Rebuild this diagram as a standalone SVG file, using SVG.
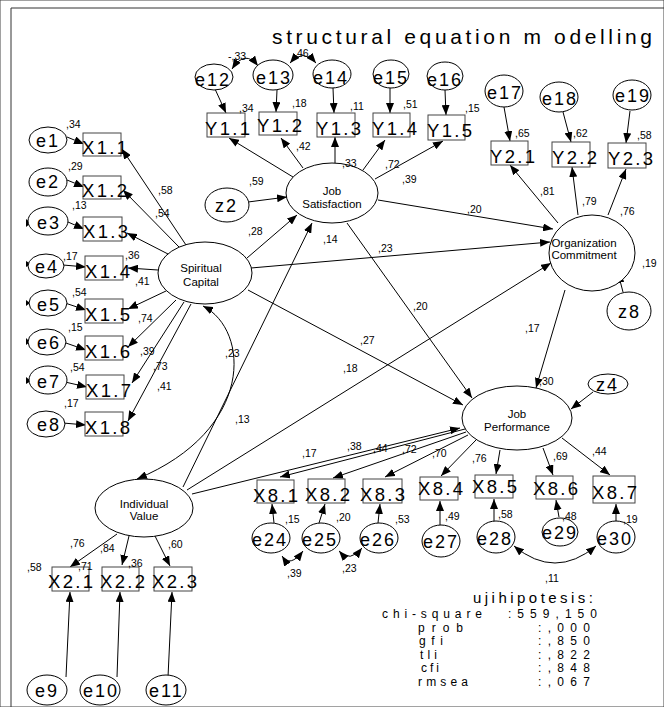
<svg xmlns="http://www.w3.org/2000/svg" width="664" height="707" viewBox="0 0 664 707">
<style>
text{font-family:"Liberation Sans",Arial,sans-serif;fill:#000}
.n{font-size:10.5px}
.big{font-size:18.5px;letter-spacing:2.3px}
.ev{font-size:18px;letter-spacing:2px}
.lv{font-size:11.5px;text-anchor:middle}
.st{font-size:12px}
ellipse{fill:#fff;stroke:#000;stroke-width:1}
rect{fill:#fff;stroke:#444;stroke-width:1}
.c line,.c path{stroke:#000;stroke-width:1;fill:none;marker-end:url(#ah)}
.c path.cv{marker-start:url(#ah)}
</style>
<defs>
<marker id="ah" viewBox="0 0 10 8" refX="10" refY="4" markerWidth="10" markerHeight="8" markerUnits="userSpaceOnUse" orient="auto-start-reverse"><path d="M0,0 L10,4 L0,8 z" fill="#000"/></marker>
</defs>
<rect width="664" height="707" fill="#fff" stroke="none"/>
<path d="M11,707 L11,8 L664,8" fill="none" stroke="#333" stroke-width="1"/>
<text x="272" y="44" font-size="21" textLength="380" lengthAdjust="spacing">structural equation m odelling</text>

<g class="c" id="connectors">
<!-- e -> X1 -->
<line x1="67" y1="137" x2="84" y2="144"/>
<line x1="67" y1="180" x2="84" y2="187"/>
<line x1="68" y1="222" x2="84" y2="229"/>
<line x1="63" y1="265" x2="86" y2="267"/>
<line x1="65" y1="303" x2="86" y2="310"/>
<line x1="63" y1="342" x2="86" y2="350"/>
<line x1="65" y1="382" x2="87" y2="387"/>
<line x1="63" y1="423" x2="86" y2="425"/>
<!-- SC -> X1 -->
<line x1="186" y1="245" x2="122" y2="149"/>
<line x1="179" y1="247" x2="123" y2="190"/>
<line x1="168" y1="254" x2="127" y2="233"/>
<line x1="158" y1="270" x2="128" y2="268"/>
<line x1="166" y1="291" x2="128" y2="309"/>
<line x1="176" y1="300" x2="128" y2="347"/>
<line x1="184" y1="302" x2="132" y2="383"/>
<line x1="191" y1="304" x2="128" y2="421"/>
<!-- e -> Y1 -->
<line x1="215" y1="89" x2="226" y2="113"/>
<line x1="277" y1="90" x2="276" y2="112"/>
<line x1="333" y1="88" x2="334" y2="113"/>
<line x1="390" y1="88" x2="390" y2="113"/>
<line x1="445" y1="90" x2="446" y2="115"/>
<!-- JS -> Y1 -->
<line x1="293" y1="177" x2="229" y2="138"/>
<line x1="303" y1="168" x2="281" y2="138"/>
<line x1="335" y1="163" x2="335" y2="137"/>
<line x1="363" y1="170" x2="385" y2="140"/>
<line x1="375" y1="179" x2="443" y2="141"/>
<!-- covariances top -->
<path class="cv" d="M232,69 Q245,49 258,66"/>
<path class="cv" d="M290,63 Q303,48 316,63"/>
<!-- e -> Y2 -->
<line x1="504" y1="107" x2="510" y2="141"/>
<line x1="563" y1="112" x2="571" y2="142"/>
<line x1="630" y1="111" x2="626" y2="143"/>
<!-- Org -> Y2 -->
<line x1="558" y1="223" x2="510" y2="165"/>
<line x1="578" y1="215" x2="572" y2="167"/>
<line x1="608" y1="215" x2="626" y2="169"/>
<!-- structural -->
<line x1="248" y1="202" x2="287" y2="197"/>
<line x1="247" y1="258" x2="297" y2="215"/>
<line x1="378" y1="200" x2="553" y2="229"/>
<line x1="251" y1="268" x2="550" y2="242"/>
<line x1="347" y1="223" x2="472" y2="398"/>
<line x1="248" y1="290" x2="463" y2="405"/>
<line x1="565" y1="290" x2="536" y2="388"/>
<line x1="593" y1="392" x2="571" y2="409"/>
<line x1="623" y1="292" x2="618" y2="273"/>
<line x1="183" y1="487" x2="312" y2="223"/>
<line x1="187" y1="490" x2="551" y2="263"/>
<line x1="192" y1="494" x2="460" y2="428"/>
<path class="cv" d="M203,306 C250,330 255,430 137,479"/>
<!-- JP -> X8 -->
<line x1="465" y1="429" x2="280" y2="477"/>
<line x1="466" y1="432" x2="333" y2="478"/>
<line x1="468" y1="435" x2="385" y2="477"/>
<line x1="476" y1="440" x2="441" y2="476"/>
<line x1="500" y1="450" x2="496" y2="474"/>
<line x1="543" y1="448" x2="553" y2="475"/>
<line x1="562" y1="438" x2="610" y2="475"/>
<!-- e -> X8 -->
<line x1="274" y1="523" x2="272" y2="504"/>
<line x1="319" y1="523" x2="325" y2="504"/>
<line x1="378" y1="523" x2="380" y2="504"/>
<line x1="440" y1="525" x2="440" y2="501"/>
<line x1="494" y1="522" x2="494" y2="499"/>
<line x1="559" y1="517" x2="556" y2="500"/>
<line x1="616" y1="522" x2="616" y2="504"/>
<path class="cv" d="M282,556 Q290,568 303,551"/>
<path class="cv" d="M339,551 Q350,563 362,548"/>
<path class="cv" d="M514,546 Q555,580 596,546"/>
<!-- IV -> X2 -->
<line x1="117" y1="534" x2="70" y2="567"/>
<line x1="129" y1="536" x2="122" y2="565"/>
<line x1="155" y1="536" x2="170" y2="566"/>
<!-- e -> X2 -->
<line x1="66" y1="677" x2="70" y2="592"/>
<line x1="117" y1="677" x2="120" y2="592"/>
<line x1="168" y1="677" x2="172" y2="592"/>
</g>
<g id="stray-heads" fill="#000">
<path d="M26,219 L31,223 L26,227 z"/>
<path d="M26,261 L31,264 L26,267 z"/>
<path d="M26,300 L30,303 L26,306 z"/>
<path d="M26,338 L30,342 L26,345 z"/>
<path d="M26,377 L31,381 L26,384 z"/>
</g>

<g id="SC"><ellipse cx="205" cy="273" rx="47" ry="31"/><text class="lv" x="201" y="272">Spiritual</text><text class="lv" x="201" y="286">Capital</text></g>
<g id="JS"><ellipse cx="332" cy="193" rx="46" ry="30"/><text class="lv" x="332" y="195">Job</text><text class="lv" x="332" y="208">Satisfaction</text></g>
<g id="OC"><ellipse cx="592" cy="253" rx="43" ry="38"/><text class="lv" x="584" y="247">Organization</text><text class="lv" x="584" y="259">Commitment</text></g>
<g id="JP"><ellipse cx="517" cy="418" rx="55" ry="32"/><text class="lv" x="517" y="418">Job</text><text class="lv" x="517" y="431">Performance</text></g>
<g id="IV"><ellipse cx="144" cy="508" rx="49" ry="29"/><text class="lv" x="144" y="508">Individual</text><text class="lv" x="144" y="520">Value</text></g>
<g id="z2"><ellipse cx="227" cy="205" rx="22" ry="17"/><text class="ev" x="215" y="212">z2</text></g>
<g id="z8"><ellipse cx="629" cy="311" rx="22" ry="19"/><text class="ev" x="618" y="318">z8</text></g>
<g id="z4"><ellipse cx="608" cy="384" rx="20" ry="10"/><text class="ev" x="596" y="391">z4</text></g>

<g id="X1">
<rect x="83" y="133" width="38" height="23"/><text class="big" x="82" y="154">X1.1</text>
<rect x="83" y="176" width="38" height="23"/><text class="big" x="82" y="197">X1.2</text>
<rect x="83" y="217" width="39" height="24"/><text class="big" x="83" y="238">X1.3</text>
<rect x="85" y="256" width="38" height="24"/><text class="big" x="85" y="278">X1.4</text>
<rect x="85" y="299" width="38" height="24"/><text class="big" x="85" y="321">X1.5</text>
<rect x="85" y="336" width="38" height="24"/><text class="big" x="85" y="358">X1.6</text>
<rect x="86" y="375" width="38" height="24"/><text class="big" x="86" y="397">X1.7</text>
<rect x="85" y="412" width="38" height="24"/><text class="big" x="85" y="434">X1.8</text>
</g>
<g id="E1">
<ellipse cx="48" cy="140" rx="19" ry="13"/><text class="ev" x="36" y="147">e1</text>
<ellipse cx="48" cy="182" rx="19" ry="14"/><text class="ev" x="36" y="188">e2</text>
<ellipse cx="48" cy="221" rx="20" ry="14"/><text class="ev" x="37" y="229">e3</text>
<ellipse cx="46" cy="266" rx="18" ry="12"/><text class="ev" x="35" y="273">e4</text>
<ellipse cx="48" cy="303" rx="19" ry="13"/><text class="ev" x="37" y="311">e5</text>
<ellipse cx="47" cy="342" rx="19" ry="13"/><text class="ev" x="37" y="349">e6</text>
<ellipse cx="48" cy="380" rx="19" ry="14"/><text class="ev" x="37" y="388">e7</text>
<ellipse cx="46" cy="424" rx="19" ry="13"/><text class="ev" x="37" y="431">e8</text>
</g>
<g id="Y1">
<rect x="207" y="113" width="38" height="24"/><text class="big" x="205" y="135">Y1.1</text>
<rect x="259" y="112" width="38" height="23"/><text class="big" x="257" y="132">Y1.2</text>
<rect x="317" y="113" width="38" height="24"/><text class="big" x="316" y="135">Y1.3</text>
<rect x="373" y="113" width="37" height="24"/><text class="big" x="372" y="135">Y1.4</text>
<rect x="428" y="115" width="37" height="25"/><text class="big" x="427" y="137">Y1.5</text>
</g>
<g id="E2">
<ellipse cx="214" cy="77" rx="19" ry="13"/><text class="ev" x="195" y="86">e12</text>
<ellipse cx="273" cy="75" rx="20" ry="15"/><text class="ev" x="256" y="84">e13</text>
<ellipse cx="332" cy="74" rx="19" ry="14"/><text class="ev" x="313" y="84">e14</text>
<ellipse cx="391" cy="74" rx="18" ry="14"/><text class="ev" x="373" y="84">e15</text>
<ellipse cx="445" cy="76" rx="18" ry="14"/><text class="ev" x="427" y="86">e16</text>
<ellipse cx="504" cy="91" rx="19" ry="16"/><text class="ev" x="487" y="99">e17</text>
<ellipse cx="559" cy="97" rx="19" ry="15"/><text class="ev" x="542" y="105">e18</text>
<ellipse cx="632" cy="95" rx="19" ry="15"/><text class="ev" x="615" y="102">e19</text>
</g>
<g id="Y2">
<rect x="491" y="141" width="37" height="24"/><text class="big" x="490" y="163">Y2.1</text>
<rect x="552" y="142" width="38" height="25"/><text class="big" x="552" y="164">Y2.2</text>
<rect x="608" y="143" width="38" height="25"/><text class="big" x="608" y="165">Y2.3</text>
</g>
<g id="X8">
<rect x="257" y="480" width="37" height="23"/><text class="big" x="253" y="502">X8.1</text>
<rect x="308" y="479" width="37" height="24"/><text class="big" x="305" y="501">X8.2</text>
<rect x="363" y="479" width="39" height="24"/><text class="big" x="360" y="501">X8.3</text>
<rect x="420" y="477" width="38" height="23"/><text class="big" x="418" y="495">X8.4</text>
<rect x="475" y="475" width="38" height="23"/><text class="big" x="472" y="493">X8.5</text>
<rect x="536" y="476" width="37" height="23"/><text class="big" x="533" y="495">X8.6</text>
<rect x="593" y="476" width="42" height="27"/><text class="big" x="592" y="499">X8.7</text>
</g>
<g id="E3">
<ellipse cx="271" cy="538" rx="19" ry="15"/><text class="ev" x="252" y="546">e24</text>
<ellipse cx="321" cy="538" rx="19" ry="15"/><text class="ev" x="302" y="546">e25</text>
<ellipse cx="379" cy="538" rx="19" ry="15"/><text class="ev" x="360" y="546">e26</text>
<ellipse cx="441" cy="541" rx="19" ry="16"/><text class="ev" x="423" y="548">e27</text>
<ellipse cx="496" cy="537" rx="19" ry="16"/><text class="ev" x="477" y="545">e28</text>
<ellipse cx="560" cy="532" rx="18" ry="14"/><text class="ev" x="542" y="539">e29</text>
<ellipse cx="616" cy="537" rx="19" ry="16"/><text class="ev" x="597" y="545">e30</text>
</g>
<g id="X2">
<rect x="52" y="567" width="37" height="24"/><text class="big" x="48" y="588">X2.1</text>
<rect x="102" y="567" width="37" height="24"/><text class="big" x="100" y="588">X2.2</text>
<rect x="154" y="567" width="38" height="24"/><text class="big" x="152" y="588">X2.3</text>
</g>
<g id="E4">
<ellipse cx="47" cy="690" rx="20" ry="15"/><text class="ev" x="35" y="697">e9</text>
<ellipse cx="100" cy="690" rx="20" ry="15"/><text class="ev" x="83" y="697">e10</text>
<ellipse cx="166" cy="690" rx="20" ry="15"/><text class="ev" x="149" y="697">e11</text>
</g>

<g id="labels" class="n">
<text class="n" x="66" y="128">,34</text><text class="n" x="68" y="170">,29</text><text class="n" x="72" y="209">,13</text><text class="n" x="63" y="260">,17</text>
<text class="n" x="72" y="296">,54</text><text class="n" x="68" y="331">,15</text><text class="n" x="70" y="371">,54</text><text class="n" x="64" y="407">,17</text>
<text class="n" x="158" y="194">,58</text><text class="n" x="155" y="217">,54</text><text class="n" x="125" y="259">,36</text><text class="n" x="135" y="285">,41</text>
<text class="n" x="138" y="322">,74</text><text class="n" x="140" y="355">,39</text><text class="n" x="153" y="370">,73</text><text class="n" x="157" y="390">,41</text>
<text class="n" x="228" y="60">-,33</text><text class="n" x="294" y="57">,46</text>
<text class="n" x="239" y="112">,34</text><text class="n" x="292" y="107">,18</text><text class="n" x="350" y="110">,11</text><text class="n" x="403" y="108">,51</text><text class="n" x="465" y="112">,15</text>
<text class="n" x="296" y="150">,42</text><text class="n" x="342" y="167">,33</text><text class="n" x="385" y="168">,72</text><text class="n" x="402" y="183">,39</text>
<text class="n" x="249" y="185">,59</text><text class="n" x="248" y="235">,28</text><text class="n" x="323" y="243">,14</text><text class="n" x="378" y="252">,23</text>
<text class="n" x="467" y="213">,20</text><text class="n" x="413" y="310">,20</text>
<text class="n" x="515" y="137">,65</text><text class="n" x="573" y="137">,62</text><text class="n" x="637" y="139">,58</text>
<text class="n" x="540" y="195">,81</text><text class="n" x="582" y="205">,79</text><text class="n" x="620" y="215">,76</text><text class="n" x="642" y="267">,19</text>
<text class="n" x="525" y="332">,17</text><text class="n" x="539" y="385">,30</text>
<text class="n" x="360" y="344">,27</text><text class="n" x="343" y="372">,18</text><text class="n" x="225" y="357">,23</text><text class="n" x="235" y="423">,13</text>
<text class="n" x="302" y="457">,17</text><text class="n" x="347" y="450">,38</text><text class="n" x="373" y="452">,44</text><text class="n" x="402" y="453">,72</text>
<text class="n" x="432" y="457">,70</text><text class="n" x="472" y="462">,76</text><text class="n" x="553" y="460">,69</text><text class="n" x="592" y="455">,44</text>
<text class="n" x="285" y="523">,15</text><text class="n" x="336" y="521">,20</text><text class="n" x="395" y="523">,53</text><text class="n" x="445" y="520">,49</text>
<text class="n" x="498" y="518">,58</text><text class="n" x="562" y="520">,48</text><text class="n" x="623" y="523">,19</text>
<text class="n" x="287" y="577">,39</text><text class="n" x="342" y="572">,23</text><text class="n" x="545" y="582">,11</text>
<text class="n" x="70" y="547">,76</text><text class="n" x="100" y="552">,84</text><text class="n" x="168" y="548">,60</text>
<text class="n" x="27" y="571">,58</text><text class="n" x="78" y="570">,71</text><text class="n" x="128" y="567">,36</text>
</g>

<g id="fit" class="st">
<text x="473" y="603" font-size="15" textLength="120" lengthAdjust="spacing">ujihipotesis:</text>
<text class="st" x="382" y="618" textLength="100" lengthAdjust="spacing">chi-square</text>
<text class="st" x="508" y="618" textLength="89" lengthAdjust="spacing">:559,150</text>
<text class="st" x="418" y="631.6" textLength="45" lengthAdjust="spacing">prob</text>
<text class="st" x="538" y="631.6" textLength="52" lengthAdjust="spacing">:,000</text>
<text class="st" x="419" y="645.2" textLength="24" lengthAdjust="spacing">gfi</text>
<text class="st" x="538" y="645.2" textLength="52" lengthAdjust="spacing">:,850</text>
<text class="st" x="420" y="658.8" textLength="17" lengthAdjust="spacing">tli</text>
<text class="st" x="538" y="658.8" textLength="52" lengthAdjust="spacing">:,822</text>
<text class="st" x="421" y="672.4" textLength="18" lengthAdjust="spacing">cfi</text>
<text class="st" x="538" y="672.4" textLength="52" lengthAdjust="spacing">:,848</text>
<text class="st" x="418" y="686" textLength="50" lengthAdjust="spacing">rmsea</text>
<text class="st" x="538" y="686" textLength="52" lengthAdjust="spacing">:,067</text>
</g>
</svg>
